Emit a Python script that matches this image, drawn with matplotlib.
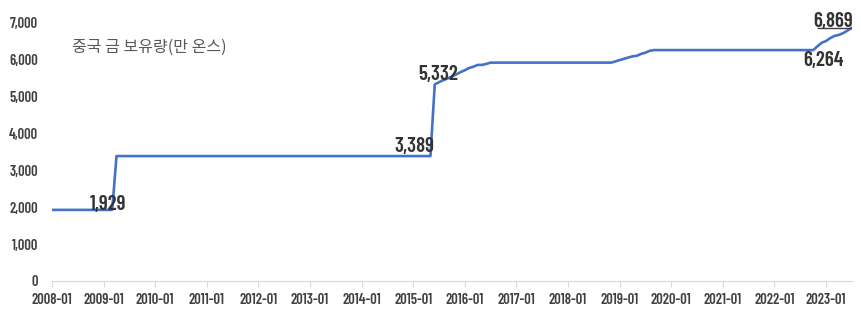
import matplotlib
matplotlib.use("Agg")
import matplotlib.pyplot as plt
import numpy as np
import pandas as pd

# China gold reserves, 10k ounces, monthly from 2008-01
hold_2008 = [1929] * 15                      # 2008-01 .. 2009-03
hold_2009 = [3389] * 74                      # 2009-04 .. 2015-05
hold_2015 = [5332, 5393, 5450, 5493, 5552, 5605, 5666,   # 2015-06 .. 2015-12
             5719, 5778, 5814, 5862, 5862, 5890, 5924]   # 2016-01 .. 2016-07
hold_2016 = [5924] * 28                      # 2016-08 .. 2018-11
hold_2018 = [5956, 5994, 6026, 6062, 6094, 6110, 6161, 6194, 6245, 6264]  # 2018-12 .. 2019-09
hold_2019 = [6264] * 37                      # 2019-10 .. 2022-10
hold_2022 = [6367, 6464, 6512, 6592, 6650, 6676, 6727, 6795, 6869]        # 2022-11 .. 2023-07

values = np.array(hold_2008 + hold_2009 + hold_2015 + hold_2016 + hold_2018 + hold_2019 + hold_2022)
months = pd.date_range("2008-01-01", periods=len(values), freq="MS")
tick_years = list(range(2008, 2024))
labels_at = {"2009-03": "1,929", "2015-05": "3,389", "2015-06": "5,332",
             "2022-10": "6,264", "2023-07": "6,869"}

plt.rcParams["font.family"] = ["Barlow Condensed", "DejaVu Sans"]

fig = plt.figure(figsize=(8.61, 3.12), dpi=100)
ax = fig.add_axes([0.0604, 0.0994, 0.929, 0.827])

x = np.arange(len(values))
ax.plot(x, values, color="#4472C4", lw=1.9, solid_joinstyle="round")

ax.set_xlim(0, len(values) - 1)
ax.set_ylim(0, 7000)
ax.set_yticks(range(0, 7001, 1000))
ax.set_yticklabels([f"{v:,}" for v in range(0, 7001, 1000)])
ym = list(months.strftime("%Y-%m"))
xt = [ym.index(f"{y}-01") for y in tick_years]
ax.set_xticks(xt)
ax.set_xticklabels([f"{y}-01" for y in tick_years])

for s in ["top", "right", "left"]:
    ax.spines[s].set_visible(False)
ax.spines["bottom"].set_color("#d9d9d9")
ax.tick_params(axis="y", length=0, pad=10, labelsize=10.5, labelcolor="#404040")
ax.tick_params(axis="x", length=4, color="#d9d9d9", pad=5, labelsize=10.5, labelcolor="#404040")
for t in ax.get_xticklabels() + ax.get_yticklabels():
    t.set_fontweight(600)

offs = {"1,929": (-3, 4, "center", "center"), "3,389": (3, 0, "right", "bottom"),
        "5,332": (-12, 0, "left", "bottom"), "6,264": (-7, -1, "left", "top"),
        "6,869": (1, -2, "right", "bottom")}
for key, txt in labels_at.items():
    i = ym.index(key)
    dx, dy, ha, va = offs[txt]
    ax.annotate(txt, (i, values[i]), xytext=(dx, dy), textcoords="offset points",
                ha=ha, va=va, fontsize=15, fontweight=600, color="#333333")

# underline under the last label
ax.hlines(values[-1], len(values) - 9, len(values) - 1, color="#404040", lw=1)

ax.text(0.025, 0.887, "중국 금 보유량(만 온스)", transform=ax.transAxes,
        fontsize=11.5, color="#595959", family=["Noto Sans CJK KR", "DejaVu Sans"])

fig.savefig("out.png", dpi=100)
